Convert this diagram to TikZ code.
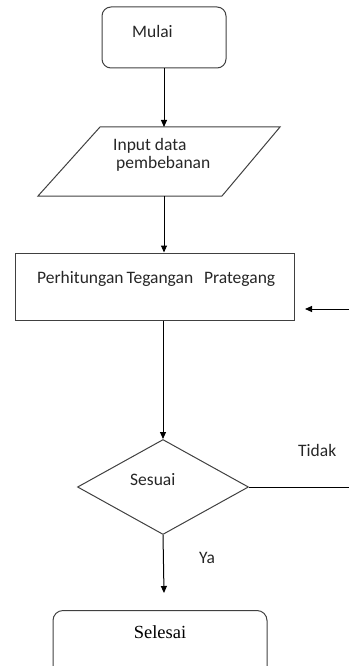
\documentclass[tikz,border=0pt]{standalone}
\usepackage{fontspec}
\setmainfont{Carlito}
\newfontfamily\serifsel{Liberation Serif}
\usetikzlibrary{shapes.geometric,arrows.meta}
\begin{document}
\begin{tikzpicture}[x=1pt,y=-1pt,
  shapeline/.style={draw=black!75, line width=1pt},
  conn/.style={draw=black, line width=1pt},
  arr/.style={conn, -{Triangle[length=7pt,width=6pt]}},
  lbl/.style={inner sep=0pt, font=\fontsize{17.5}{20}\selectfont, text=black!85}]
\useasboundingbox (0,0) rectangle (349,666);
\clip (0,0) rectangle (349,666);
% shapes
\node[shapeline, rounded corners=9pt, minimum width=124pt, minimum height=61pt, inner sep=0pt] (mulai) at (164,37.5) {};
\coordinate (pTL) at (100,127);
\coordinate (pTR) at (280,127);
\coordinate (pBR) at (222,196);
\coordinate (pBL) at (38,196);
\draw[shapeline] (pTL) -- (pTR) -- (pBR) -- (pBL) -- cycle;
\coordinate (intop) at (164,127);
\coordinate (inbot) at (164,196);
\node[shapeline, minimum width=279pt, minimum height=67pt, inner sep=0pt] (hitung) at (154.5,286.5) {};
\node[shapeline, diamond, minimum width=171pt, minimum height=95pt, inner sep=0pt] (sesuai) at (163,487) {};
\node[shapeline, rounded corners=10pt, minimum width=214pt, minimum height=76pt, inner sep=0pt, anchor=north] (selesai) at (160,610) {};
% texts
\node[lbl, anchor=west] at (132,31) {Mulai};
\node[lbl, anchor=west] at (113,146) {Input data};
\node[lbl, anchor=west] at (116,164) {pembebanan};
\node[lbl, anchor=west] at (37,279) {Perhitungan\,Tegangan\ \ \,Prategang};
\node[lbl, anchor=west] at (130,480) {Sesuai};
\node[lbl, anchor=west] at (298,450) {Tidak};
\node[lbl, anchor=west] at (199,558) {Ya};
\node[inner sep=0pt, font=\serifsel\fontsize{18.5}{20}\selectfont] at (160,632) {Selesai};
% connectors
\draw[arr] (mulai.south) -- (intop);
\draw[arr] (inbot) -- (hitung.north -| inbot);
\draw[arr] (hitung.south -| sesuai.north) -- (sesuai.north);
\draw[arr] (sesuai.south) -- (164,593) coordinate (yaend);
\coordinate (tidakend) at (349,487);
\draw[conn] (sesuai.east) -- (tidakend);
\coordinate (backstart) at (349,309);
\coordinate (backend) at (305,309);
\draw[arr] (backstart) -- (backend);
\end{tikzpicture}
\end{document}
